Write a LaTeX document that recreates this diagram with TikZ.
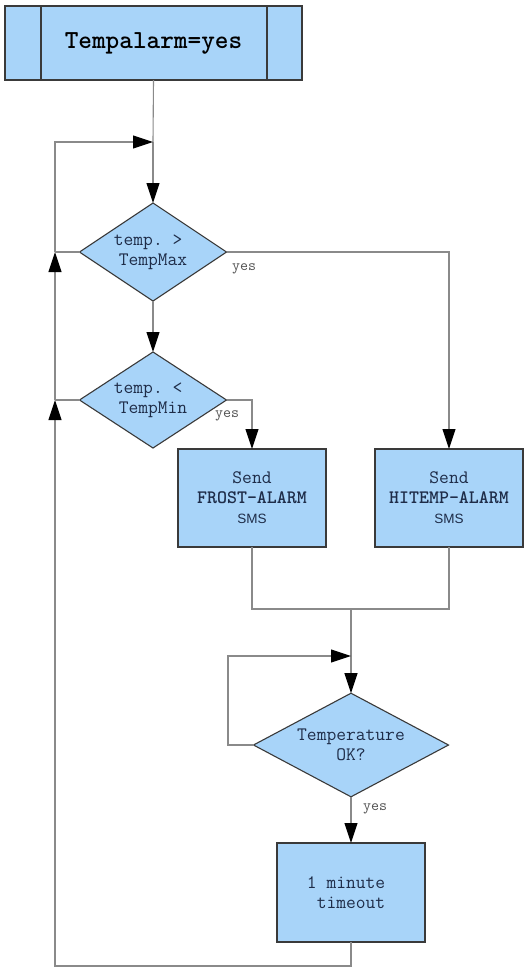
\documentclass[tikz,border=0pt]{standalone}
\usepackage{fontspec}
\usetikzlibrary{shapes.geometric,arrows.meta}
\newfontfamily\sansfont{Liberation Sans}
\definecolor{boxfill}{HTML}{A8D4F9}
\definecolor{boxline}{HTML}{3A3A3A}
\definecolor{txt}{HTML}{1E2C48}
\definecolor{conn}{HTML}{8A8A8A}
\tikzset{
  base/.style={draw=boxline, fill=boxfill, line width=1.1pt, inner sep=0pt, outer sep=0pt,
    align=center, text=txt, font=\ttfamily\fontsize{19}{20}\selectfont},
  procbox/.style={base, rectangle, minimum width=148pt, minimum height=98pt},
  decision/.style={base, diamond, aspect=1.5},
  ln/.style={draw=conn, line width=1.1pt},
  arr/.style={-{Triangle[length=20pt,width=13pt,fill=black,color=black]}},
  yeslbl/.style={text=conn!60!black, font=\ttfamily\fontsize{15.5}{16}\selectfont, inner sep=0pt},
}
\begin{document}
\begin{tikzpicture}[x=1pt,y=-1pt]
\useasboundingbox (0,0) rectangle (524,970);
\fill[white] (0,0) rectangle (524,970);

\node[base, rectangle, minimum width=297pt, minimum height=74pt, text=black,
  font=\ttfamily\bfseries\fontsize{26}{28}\selectfont] (top) at (153.5,43) {Tempalarm=yes};
\draw[boxline, line width=1.1pt] ([xshift=36pt]top.north west) -- ([xshift=36pt]top.south west);
\draw[boxline, line width=1.1pt] ([xshift=-35pt]top.north east) -- ([xshift=-35pt]top.south east);

\node[decision, minimum width=147pt, minimum height=98pt] (d1) at (153,252) {temp.~>\phantom{x}\\TempMax};
\node[decision, minimum width=147pt, minimum height=96pt] (d2) at (153,400) {temp.~<\phantom{x}\\TempMin};

\node[procbox] (b1) at (252,498) {Send\\\bfseries FROST-ALARM\\{\sansfont\fontsize{13.5}{20}\selectfont SMS}};
\node[procbox] (b2) at (449,498) {Send\\\bfseries HITEMP-ALARM\\{\sansfont\fontsize{13.5}{20}\selectfont SMS}};

\node[decision, minimum width=195pt, minimum height=98pt] (d3) at (351,745) {Temperature\\OK?};

\node[procbox, minimum height=99pt] (b3) at (351,892.5) {1 minute\phantom{x}\\timeout};

\coordinate (j0) at (153,142);
\coordinate (j1) at (55,252);
\coordinate (j2) at (55,400);
\coordinate (bl) at (55,966);
\coordinate (ml) at (252,609);
\coordinate (mr) at (449,609);
\coordinate (mc) at (351,609);
\coordinate (j3) at (351,656);
\coordinate (lc) at (228,700);

% main trunk
\draw[ln] (top.south) -- (j0);
\draw[ln, arr] (j0) -- (d1.north);
\draw[ln, arr] (d1.south) -- (d2.north);

% left return line
\draw[ln, arr] (b3.south) |- (bl) -- (j2);
\draw[ln] (d2.west) -- (j2);
\draw[ln, arr] (j2) -- (j1);
\draw[ln] (d1.west) -- (j1);
\draw[ln, arr] (j1) |- (j0);

% yes branches
\draw[ln, arr] (d1.east) -| (b2.north);
\node[yeslbl, anchor=north west] at (232,263) {yes};
\draw[ln, arr] (d2.east) -| (b1.north);
\node[yeslbl, anchor=north west] at (215,410) {yes};

% merge
\draw[ln] (b1.south) |- (ml) -- (mr) -- (b2.south);
\draw[ln] (mc) -- (j3);
\draw[ln, arr] (j3) -- (d3.north);
\draw[ln, arr] (d3.west) -| (lc) |- (j3);

\draw[ln, arr] (d3.south) -- (b3.north);
\node[yeslbl, anchor=north west] at (363,803) {yes};
\end{tikzpicture}
\end{document}
